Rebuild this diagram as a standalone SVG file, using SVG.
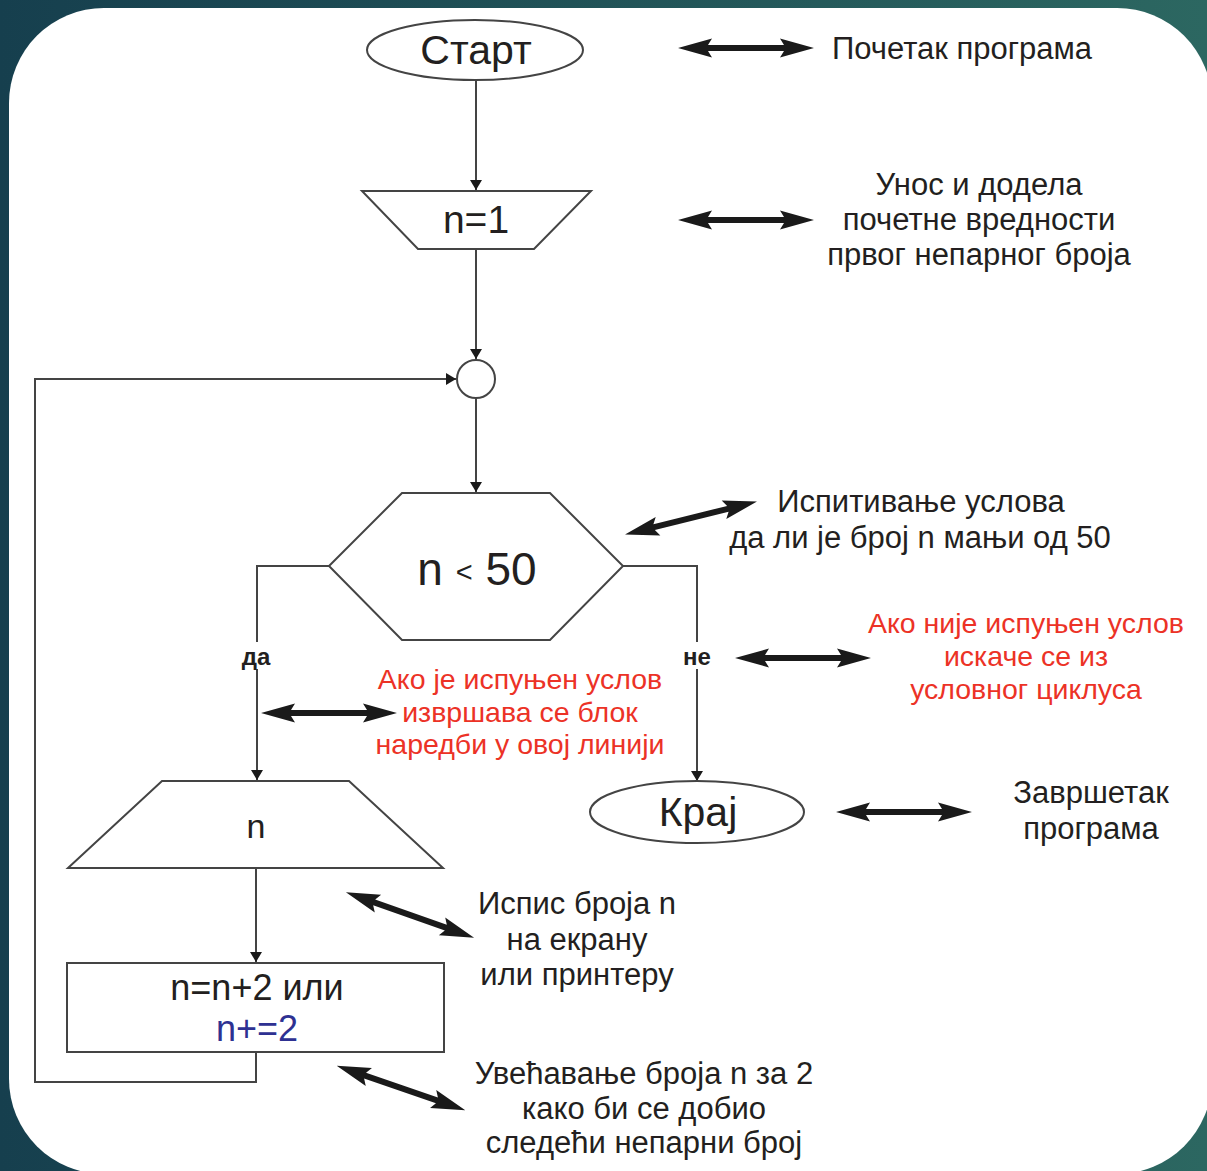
<svg xmlns="http://www.w3.org/2000/svg" width="1207" height="1171" viewBox="0 0 1207 1171">
<defs>
<linearGradient id="bg" x1="0" y1="0" x2="1" y2="0">
<stop offset="0" stop-color="#163f4e"/>
<stop offset="1" stop-color="#2c6761"/>
</linearGradient>
<marker id="ah" viewBox="0 0 10 20" refX="10" refY="10" markerWidth="10" markerHeight="20" markerUnits="userSpaceOnUse" orient="auto">
<path d="M0,4 L10,10 L0,16 Z" fill="#1a1a1a"/>
</marker>
<path id="dbl" d="M-68,0 L-34,-9.5 L-38,-3 L38,-3 L34,-9.5 L68,0 L34,9.5 L38,3 L-38,3 L-34,9.5 Z" fill="#1a1a1a"/>
<style>
.ln{fill:none;stroke:#444;stroke-width:2}
.shp{fill:#fff;stroke:#444;stroke-width:2}
.t{font-family:"Liberation Sans",Arial,sans-serif;fill:#231f20;text-anchor:middle}
.lbl{font-size:31px}
.red{font-size:28.5px;fill:#ec3226}
.yn{font-size:24px;font-weight:bold}
</style>
</defs>
<rect x="0" y="0" width="1207" height="1171" fill="url(#bg)"/>
<rect x="9" y="8" width="1203" height="1166" rx="95" ry="95" fill="#fff"/>

<g id="connectors">
<line class="ln" x1="476" y1="81" x2="476" y2="190" marker-end="url(#ah)"/>
<line class="ln" x1="476" y1="249" x2="476" y2="359" marker-end="url(#ah)"/>
<line class="ln" x1="476" y1="398" x2="476" y2="492" marker-end="url(#ah)"/>
<polyline class="ln" points="329,566 257,566 257,642"/>
<line class="ln" x1="257" y1="669" x2="257" y2="780" marker-end="url(#ah)"/>
<polyline class="ln" points="623,566 697,566 697,642"/>
<line class="ln" x1="697" y1="669" x2="697" y2="781" marker-end="url(#ah)"/>
<line class="ln" x1="256" y1="868" x2="256" y2="962" marker-end="url(#ah)"/>
<polyline class="ln" points="256,1052 256,1082 35,1082 35,379 456,379" marker-end="url(#ah)"/>
</g>

<g id="start">
<ellipse class="shp" cx="475" cy="50" rx="108" ry="30"/>
<text class="t" x="476" y="64" font-size="41">Старт</text>
</g>
<g id="init">
<polygon class="shp" points="362,191 591,191 534,249 418,249"/>
<text class="t" x="476" y="233" font-size="39">n=1</text>
</g>
<g id="join">
<circle class="shp" cx="476" cy="379" r="19"/>
</g>
<g id="cond">
<polygon class="shp" points="402,493 550,493 623,566 550,640 402,640 329,566"/>
<text class="t" x="477" y="585" font-size="46">n <tspan font-size="29" dy="-3">&lt;</tspan><tspan dy="3"> 50</tspan></text>
</g>
<g id="yes-label"><text class="t yn" x="256" y="665">да</text></g>
<g id="no-label"><text class="t yn" x="697" y="665">не</text></g>
<g id="output">
<polygon class="shp" points="162,781 349,781 443,868 68,868"/>
<text class="t" x="256" y="838" font-size="34">n</text>
</g>
<g id="incr">
<rect class="shp" x="67" y="963" width="377" height="89"/>
<text class="t" x="257" y="1000" font-size="36">n=n+2 или</text>
<text class="t" x="257" y="1041" font-size="36" style="fill:#2e3192">n+=2</text>
</g>
<g id="end">
<ellipse class="shp" cx="697" cy="812" rx="107" ry="31"/>
<text class="t" x="698" y="826" font-size="41">Крај</text>
</g>

<g id="notes">
<use href="#dbl" transform="translate(746,48)"/>
<use href="#dbl" transform="translate(746,220)"/>
<use href="#dbl" transform="translate(691,518) rotate(-14)"/>
<use href="#dbl" transform="translate(329,713)"/>
<use href="#dbl" transform="translate(803,658)"/>
<use href="#dbl" transform="translate(904,812)"/>
<use href="#dbl" transform="translate(410,915) rotate(19.5)"/>
<use href="#dbl" transform="translate(401,1088) rotate(19)"/>

<text class="t lbl" x="962" y="59">Почетак програма</text>
<text class="t lbl" x="979" y="195">Унос и додела</text>
<text class="t lbl" x="979" y="230">почетне вредности</text>
<text class="t lbl" x="979" y="265">првог непарног броја</text>
<text class="t lbl" x="921" y="512">Испитивање услова</text>
<text class="t lbl" x="920" y="548">да ли је број n мањи од 50</text>
<text class="t red" x="1026" y="633">Ако није испуњен услов</text>
<text class="t red" x="1026" y="666">искаче се из</text>
<text class="t red" x="1026" y="699">условног циклуса</text>
<text class="t red" x="520" y="689">Ако је испуњен услов</text>
<text class="t red" x="520" y="722">извршава се блок</text>
<text class="t red" x="520" y="754">наредби у овој линији</text>
<text class="t lbl" x="1091" y="803">Завршетак</text>
<text class="t lbl" x="1091" y="839">програма</text>
<text class="t lbl" x="577" y="914">Испис броја n</text>
<text class="t lbl" x="577" y="950">на екрану</text>
<text class="t lbl" x="577" y="985">или принтеру</text>
<text class="t lbl" x="644" y="1084">Увећавање броја n за 2</text>
<text class="t lbl" x="644" y="1119">како би се добио</text>
<text class="t lbl" x="644" y="1153">следећи непарни број</text>
</g>
</svg>
